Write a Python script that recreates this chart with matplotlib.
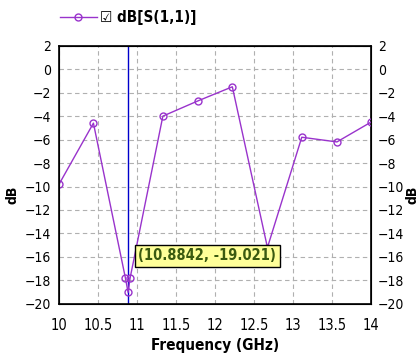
import matplotlib
matplotlib.use("Agg")
import matplotlib.pyplot as plt
from matplotlib.lines import Line2D

plt.rcParams['font.family'] = ['DejaVu Sans']
plt.rcParams['font.stretch'] = 'condensed'

# S11 sweep
freq = [10.0, 10.44, 10.85, 10.8842, 10.91, 11.33, 11.78, 12.22, 12.67, 13.11, 13.56, 14.0]
s11 = [-9.8, -4.6, -17.8, -19.021, -17.8, -4.0, -2.7, -1.5, -15.2, -5.8, -6.2, -4.5]
marker_f = 10.8842
marker_db = -19.021
xticks = [10, 10.5, 11, 11.5, 12, 12.5, 13, 13.5, 14]
xlabels = ['10', '10.5', '11', '11.5', '12', '12.5', '13', '13.5', '14']
yticks = list(range(-20, 3, 2))

purple = '#9933cc'

fig = plt.figure(figsize=(4.19, 3.6), dpi=100)
ax = fig.add_axes([0.141, 0.156, 0.745, 0.717])

ax.plot(freq, s11, color=purple, lw=1, marker='o', ms=5, mfc='none', mec=purple, mew=1, zorder=3)
ax.axvline(marker_f, color='#0000cc', lw=1, zorder=2)

ax.set_xlim(10, 14)
ax.set_ylim(-20, 2)
ax.set_xticks(xticks)
ax.set_xticklabels(xlabels)
ax.set_yticks(yticks)
ax.grid(True, color='#b0b0b0', ls=(0, (4, 3)), lw=0.8)
ax.tick_params(length=0, labelsize=10)
ax.tick_params(axis='x', pad=10, labelsize=10.5)
ax.tick_params(axis='y', pad=6)
for s in ax.spines.values():
    s.set_linewidth(1.2)

ax.set_xlabel('Frequency (GHz)', fontsize=11, fontweight='bold', labelpad=4)

# mirrored scale on the right
ax2 = ax.twinx()
ax2.set_ylim(-20, 2)
ax2.set_yticks(yticks)
ax2.tick_params(length=0, labelsize=10, pad=5)

fig.text(0.029, 0.46, 'dB', rotation=90, ha='center', va='center', fontsize=10, fontweight='bold')
fig.text(0.985, 0.46, 'dB', rotation=90, ha='center', va='center', fontsize=10, fontweight='bold')

ax.text(11.9, -15.9, '(%.4f, %.3f)' % (marker_f, marker_db), fontsize=10.5, fontweight='bold',
        color='#3a5a10', ha='center', va='center', zorder=5,
        bbox=dict(boxstyle='square,pad=0.25', fc='#ffff99', ec='black', lw=1))

# legend entry at the top
handle = Line2D([0], [0], color=purple, lw=1, marker='o', ms=5, mfc='none', mec=purple)
fig.legend([handle], ['\u2611 dB[S(1,1)]'], loc='upper left', bbox_to_anchor=(0.11, 1.01),
           frameon=False, handlelength=2.4, handletextpad=0.2,
           prop={'weight': 'bold', 'size': 11, 'family': ['DejaVu Sans']})

fig.savefig('out.png', dpi=100)
